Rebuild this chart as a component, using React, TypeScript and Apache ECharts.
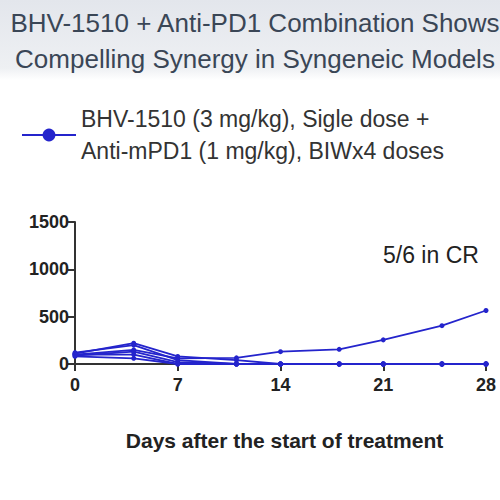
import * as echarts from 'echarts';
import { useEffect, useRef } from 'react';

const days = [0, 4, 7, 11, 14, 18, 21, 25, 28];

// tumour volume (mm3) per mouse
const mouse1 = [100, 150, 60, 65, 130, 155, 255, 405, 565];
const mouse2 = [110, 220, 80, 40, 0, 0, 0, 0, 0];
const mouse3 = [120, 200, 40, 0, 0, 0, 0, 0, 0];
const mouse4 = [90, 130, 20, 0, 0, 0, 0, 0, 0];
const mouse5 = [100, 100, 0, 0, 0, 0, 0, 0, 0];
const mouse6 = [80, 60, 0, 0, 0, 0, 0, 0, 0];
const mice = [mouse1, mouse2, mouse3, mouse4, mouse5, mouse6];

const xTicks = [0, 7, 14, 21, 28];
const yTicks = [0, 500, 1000, 1500];

const seriesName = 'BHV-1510 (3 mg/kg), Sigle dose +\nAnti-mPD1 (1 mg/kg), BIWx4 doses';
const BLUE = '#2424cc';
const FONT = '"Liberation Sans", Arial, sans-serif';

export default function App() {
  const chartRef = useRef<HTMLDivElement>(null);

  useEffect(() => {
    if (!chartRef.current) return;
    const chart = echarts.init(chartRef.current, undefined, { renderer: 'svg' });

    chart.setOption({
      animation: false,
      backgroundColor: '#ffffff',
      textStyle: { fontFamily: FONT },
      graphic: [
        {
          type: 'rect',
          z: -10,
          shape: { x: 0, y: 0, width: 500, height: 80 },
          style: {
            fill: new echarts.graphic.LinearGradient(0, 0, 0, 1, [
              { offset: 0, color: '#e3e6ec' },
              { offset: 0.85, color: '#eef0f3' },
              { offset: 1, color: '#ffffff' },
            ]),
          },
        },
        {
          type: 'text',
          left: 383,
          top: 243,
          style: { text: '5/6 in CR', fill: '#222', font: `23px ${FONT}` },
        },
      ],
      title: {
        text: 'BHV-1510 + Anti-PD1 Combination Shows\nCompelling Synergy in Syngeneic Models',
        left: 250,
        top: 0,
        textAlign: 'center',
        textStyle: {
          fontFamily: FONT,
          fontSize: 26,
          fontWeight: 'normal',
          color: '#3a4656',
          lineHeight: 36,
        },
      },
      legend: {
        left: 16,
        top: 98,
        data: [seriesName],
        itemWidth: 54,
        itemHeight: 16,
        itemGap: 8,
        textStyle: { fontFamily: FONT, fontSize: 23, color: '#333', lineHeight: 32 },
      },
      grid: { left: 75, right: 14, top: 222, bottom: 136 },
      xAxis: {
        type: 'value',
        min: 0,
        max: 28,
        interval: 7,
        name: 'Days after the start of treatment',
        nameLocation: 'middle',
        nameGap: 66,
        nameTextStyle: { fontFamily: FONT, fontSize: 21, fontWeight: 'bold', color: '#222', padding: [0, 0, 0, 8] },
        axisLine: { lineStyle: { color: '#333', width: 2 } },
        axisTick: { show: true, length: 7, lineStyle: { color: '#333', width: 2 }, customValues: xTicks },
        axisLabel: { fontSize: 18, fontWeight: 'bold', color: '#222', margin: 12, customValues: xTicks },
        splitLine: { show: false },
      },
      yAxis: {
        type: 'value',
        min: 0,
        max: 1500,
        interval: 500,
        axisLine: { show: true, lineStyle: { color: '#333', width: 2 } },
        axisTick: { show: true, length: 7, lineStyle: { color: '#333', width: 2 }, customValues: yTicks },
        axisLabel: {
          fontSize: 18,
          fontWeight: 'bold',
          color: '#222',
          margin: 6,
          customValues: yTicks,
          formatter: (v: number) => String(v),
        },
        splitLine: { show: false },
      },
      series: mice.map(m => ({
        name: seriesName,
        type: 'line',
        data: days.map((d, i) => [d, m[i]]),
        symbol: 'circle',
        symbolSize: 5,
        itemStyle: { color: BLUE },
        lineStyle: { color: BLUE, width: 1.8 },
      })),
    });

    return () => chart.dispose();
  }, []);

  return <div ref={chartRef} style={{ position: 'fixed', left: 0, top: 0, width: 500, height: 500 }} />;
}
